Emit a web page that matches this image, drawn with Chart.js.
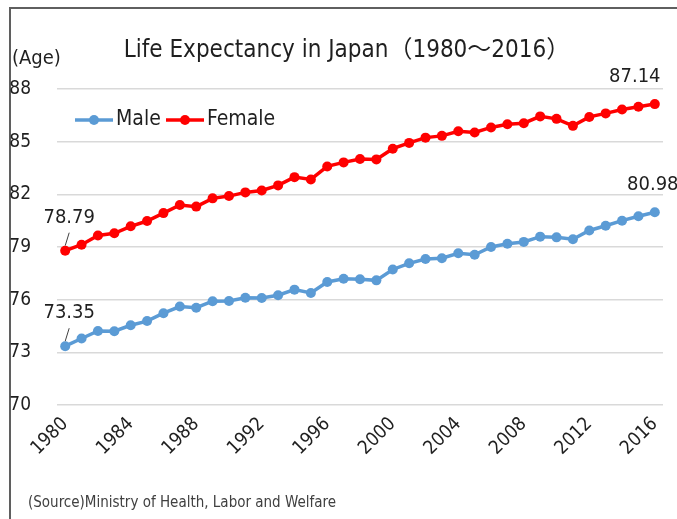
<!DOCTYPE html>
<html>
<head>
<meta charset="utf-8">
<script src="https://cdn.jsdelivr.net/npm/chart.js@4"></script>
<style>
  html, body { margin: 0; padding: 0; background: #fff; overflow: hidden; }
  #wrap { position: relative; width: 677px; height: 519px; }
  #frame {
    position: absolute; left: 9px; top: 7px; width: 720px; height: 560px;
    border-top: 2px solid #5f5f5f; border-left: 2px solid #5f5f5f;
  }
  canvas { position: absolute; left: 0; top: 0; }
</style>
</head>
<body>
<div id="wrap">
  <div id="frame"></div>
  <canvas id="chart-life" width="677" height="519"></canvas>
</div>
<script>
const years = [
  1980, 1981, 1982, 1983, 1984, 1985, 1986, 1987, 1988, 1989,
  1990, 1991, 1992, 1993, 1994, 1995, 1996, 1997, 1998, 1999,
  2000, 2001, 2002, 2003, 2004, 2005, 2006, 2007, 2008, 2009,
  2010, 2011, 2012, 2013, 2014, 2015, 2016,
];
const male = [
  73.35, 73.79, 74.22, 74.2, 74.54, 74.78, 75.23, 75.61, 75.54, 75.91,
  75.92, 76.11, 76.09, 76.25, 76.57, 76.38, 77.01, 77.19, 77.16, 77.1,
  77.72, 78.07, 78.32, 78.36, 78.64, 78.56, 79.0, 79.19, 79.29, 79.59,
  79.55, 79.44, 79.94, 80.21, 80.5, 80.75, 80.98,
];
const female = [
  78.79, 79.13, 79.66, 79.78, 80.18, 80.48, 80.93, 81.39, 81.3, 81.77,
  81.9, 82.11, 82.22, 82.51, 82.98, 82.85, 83.59, 83.82, 84.01, 83.99,
  84.6, 84.93, 85.23, 85.33, 85.59, 85.52, 85.81, 85.99, 86.05, 86.44,
  86.3, 85.9, 86.41, 86.61, 86.83, 86.99, 87.14,
];
const yTicks = [70, 73, 76, 79, 82, 85, 88];

const NARROW = '"Liberation Sans Narrow", "DejaVu Sans Condensed", "Noto Sans CJK JP", sans-serif';
const BLUE = "#5b9bd5";
const RED = "#ff0000";
const INK = "#1f1f1f";

// extra text: title, (Age), legend inside the plot, end labels, source note
const extras = {
  id: "extras",
  afterDatasetsDraw(chart) {
    const c = chart.ctx;
    c.save();
    c.fillStyle = INK;
    c.textBaseline = "middle";
    c.textAlign = "center";
    c.font = "24px " + NARROW;
    c.fillText("Life Expectancy in Japan（1980～2016）", 347, 51);

    c.font = "20px " + NARROW;
    c.textAlign = "left";
    c.fillText("(Age)", 12, 59);

    // legend
    const items = [
      { text: "Male", color: BLUE, x: 75 },
      { text: "Female", color: RED, x: 166 },
    ];
    c.font = "21px " + NARROW;
    items.forEach((it) => {
      c.strokeStyle = it.color;
      c.lineWidth = 3.5;
      c.beginPath();
      c.moveTo(it.x, 120);
      c.lineTo(it.x + 38, 120);
      c.stroke();
      c.fillStyle = it.color;
      c.beginPath();
      c.arc(it.x + 19, 120, 5, 0, Math.PI * 2);
      c.fill();
      c.fillStyle = INK;
      c.fillText(it.text, it.x + 41, 120);
    });

    // value labels at first and last points
    c.font = "20px " + NARROW;
    c.textAlign = "center";
    const shiftLast = [-2, -20];
    const metas = [chart.getDatasetMeta(0), chart.getDatasetMeta(1)];
    metas.forEach((meta, i) => {
      const data = chart.data.datasets[i].data;
      const first = meta.data[0];
      const last = meta.data[data.length - 1];
      c.fillStyle = INK;
      c.fillText(data[0].toFixed(2), first.x + 4, first.y - 33);
      c.strokeStyle = "#404040";
      c.lineWidth = 1;
      c.beginPath();
      c.moveTo(first.x + 4, first.y - 18);
      c.lineTo(first.x, first.y - 5);
      c.stroke();
      c.fillText(data[data.length - 1].toFixed(2), last.x + shiftLast[i], last.y - 27);
    });

    // source
    c.font = "15px " + NARROW;
    c.textAlign = "left";
    c.fillStyle = "#404040";
    c.fillText("(Source)Ministry of Health, Labor and Welfare", 28, 503);
    c.restore();
  },
};

const ctx = document.getElementById("chart-life").getContext("2d");
new Chart(ctx, {
  type: "line",
  data: {
    labels: years,
    datasets: [
      {
        label: "Male",
        data: male,
        borderColor: BLUE,
        backgroundColor: BLUE,
        borderWidth: 3.5,
        pointRadius: 5,
        pointBorderWidth: 0,
        tension: 0,
      },
      {
        label: "Female",
        data: female,
        borderColor: RED,
        backgroundColor: RED,
        borderWidth: 3.5,
        pointRadius: 5,
        pointBorderWidth: 0,
        tension: 0,
      },
    ],
  },
  options: {
    responsive: false,
    animation: false,
    layout: {
      padding: { left: 0, right: 14, top: 89, bottom: 30 },
    },
    plugins: {
      legend: { display: false },
      tooltip: { enabled: false },
      title: { display: false },
    },
    scales: {
      x: {
        type: "category",
        offset: true,
        grid: { display: false },
        border: { display: false },
        afterFit: (scale) => {
          scale.height = 84;
        },
        ticks: {
          autoSkip: false,
          maxRotation: 45,
          minRotation: 45,
          padding: 0,
          color: INK,
          font: { size: 19, family: NARROW },
          callback: function (value) {
            const yr = this.getLabelForValue(value);
            return yr % 4 === 0 ? String(yr) : "";
          },
        },
      },
      y: {
        min: 70,
        max: 88,
        afterBuildTicks: (scale) => {
          scale.ticks = yTicks.map((v) => ({ value: v }));
        },
        afterFit: (scale) => {
          scale.width = 57;
        },
        grid: { color: "#d9d9d9", lineWidth: 1.5, drawTicks: false },
        border: { display: false },
        ticks: {
          padding: 26,
          color: INK,
          font: { size: 19, family: NARROW },
        },
      },
    },
  },
  plugins: [extras],
});
</script>
</body>
</html>
